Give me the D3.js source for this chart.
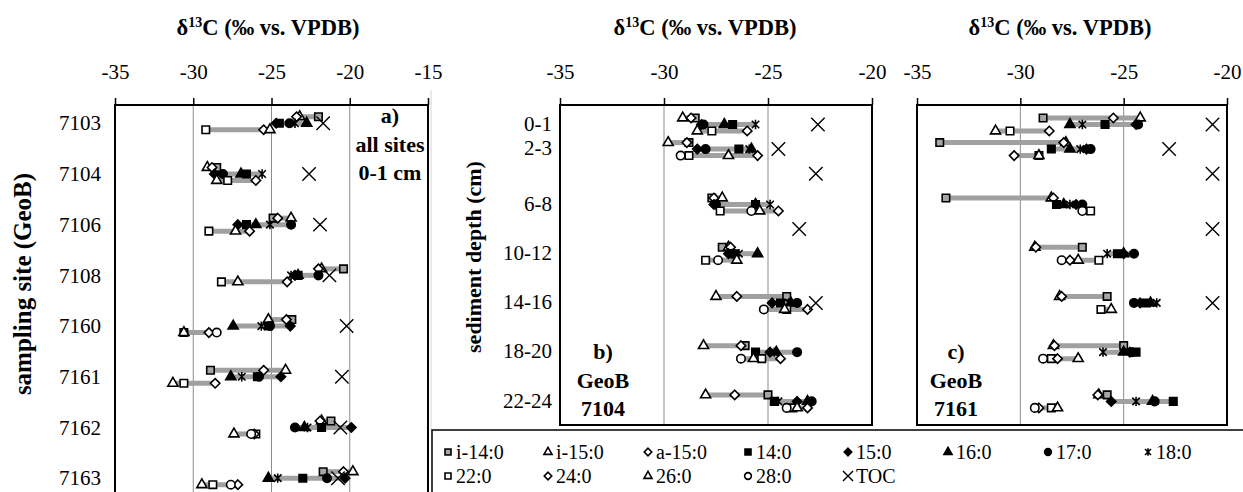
<!DOCTYPE html>
<html>
<head>
<meta charset="utf-8">
<script src="https://cdn.jsdelivr.net/npm/d3@7"></script>
<style>
	body { margin: 0; background: #fff; }
	svg { display: block; font-family: 'Liberation Serif', 'Times New Roman', serif; }
</style>
</head>
<body>
<div class="canvas"></div>
<script>
// compounds, in legend order
const compounds = ['i-14:0', 'i-15:0', 'a-15:0', '14:0', '15:0', '16:0', '17:0', '18:0', '22:0', '24:0', '26:0', '28:0'];
// 0 = branched, 1 = short chain, 2 = long chain
const compoundGroup = [0, 0, 0, 1, 1, 1, 1, 1, 2, 2, 2, 2];

// a) all sites, 0-1 cm
const sites = ['7103', '7104', '7106', '7108', '7160', '7161', '7162', '7163'];
const aI14 = [-22.0, -28.5, -24.9, -20.4, -23.7, -28.9, -21.2, -21.7];
const aI15 = [-23.2, -29.1, -23.75, -21.8, -25.2, -24.1, -21.8, -19.8];
const aA15 = [-23.4, -28.8, -24.6, -22.0, -24.05, -25.5, -21.9, -20.4];
const a14 = [-24.5, -26.6, -26.6, -23.3, -25.2, -25.9, -21.8, -23.0];
const a15 = [-24.7, -28.65, -27.15, -23.5, -23.8, -24.4, -19.9, -20.3];
const a16 = [-22.75, -26.95, -26.0, -23.3, -27.45, -27.6, -22.9, -25.2];
const a17 = [-23.85, -28.1, -23.75, -22.0, -25.1, -25.8, -23.5, -21.45];
const a18 = [-23.5, -25.6, -25.1, -23.75, -25.65, -26.9, -22.7, -24.6];
const a22 = [-29.2, -27.8, -29.0, -28.2, -30.6, -30.6, -26.0, -28.75];
const a24 = [-25.5, -26.0, -26.4, -24.0, -29.0, -28.6, -26.1, -27.15];
const a26 = [-25.1, -28.5, -27.3, -27.15, -30.6, -31.3, -27.4, -29.45];
const a28 = [null, null, null, null, -28.5, null, -26.3, -27.6];
const aToc = [-21.7, -22.6, -21.9, -21.3, -20.2, -20.5, -20.6, -20.75];

// b) GeoB 7104 and c) GeoB 7161, by sediment depth
const depthLabels = ['0-1', '2-3', '6-8', '10-12', '14-16', '18-20', '22-24'];
const depths = [0.5, 2.5, 7, 11, 15, 19, 23];
const tocDepths = [0.5, 2.5, 4.5, 9, 15];

const bI14 = [-28.5, -28.8, -27.7, -27.2, -24.1, -26.1, -25.0];
const bI15 = [-29.1, -29.8, -27.2, -26.9, -27.5, -28.1, -28.0];
const bA15 = [-28.7, -28.9, -27.6, -26.8, -26.5, -26.3, -26.6];
const b14 = [-26.7, -26.4, -25.6, -26.6, -24.4, -25.6, -24.7];
const b15 = [-28.2, -28.4, -27.6, -26.9, -24.8, -24.9, -23.6];
const b16 = [-27.1, -25.8, -25.6, -25.5, -23.9, -24.6, -23.1];
const b17 = [-28.1, -28.0, -27.5, -26.7, -23.6, -23.6, -22.9];
const b18 = [-25.6, -25.9, -24.9, -26.4, -24.0, -24.7, -24.5];
const b22 = [-27.7, -28.8, -27.3, -28.0, -24.1, -25.3, -23.8];
const b24 = [-26.0, -25.5, -24.5, null, -23.1, -24.4, -23.1];
const b26 = [-28.4, -26.9, -25.4, -26.5, -24.2, -25.7, -23.6];
const b28 = [null, -29.2, -25.8, -27.4, -25.2, -26.3, -24.1];
const bToc = [-22.6, -24.5, -22.7, -23.5, -22.7];

const cI14 = [-28.9, -33.9, -33.6, -27.0, -25.8, -25.0, -25.8];
const cI15 = [-24.2, -27.8, -28.5, -29.3, -28.1, -28.4, -26.2];
const cA15 = [-25.5, -27.9, -28.4, -29.25, -28.0, -28.35, -26.25];
const c14 = [-25.9, -28.5, -28.25, -25.3, -23.9, -24.4, -22.6];
const c15 = [-24.4, -26.8, -27.3, -25.0, -24.2, -24.7, -25.6];
const c16 = [-27.6, -27.6, -27.9, -25.0, -23.7, -25.0, -23.6];
const c17 = [-24.3, -26.6, -27.0, -24.5, -24.5, -24.6, -23.5];
const c18 = [-27.0, -27.1, -27.6, -25.8, -23.4, -26.0, -24.4];
const c22 = [-30.5, -29.1, -26.6, -26.2, -26.1, -28.5, -28.5];
const c24 = [-28.6, -30.3, null, -27.6, null, -28.2, -29.1];
const c26 = [-31.2, -29.1, null, -27.2, -25.6, -27.2, -28.2];
const c28 = [null, null, -27.0, -28.0, null, -28.9, -29.3];
const cToc = [-20.7, -22.8, -20.7, -20.7, -20.7];

// axis ticks
const xTicksA = [-35, -30, -25, -20, -15];
const xTicksBC = [-35, -30, -25, -20];

const svg = d3.select('.canvas')
	.append('svg')
	.attr('width', 1243)
	.attr('height', 492);

// custom marker shapes
const symbolStar = {
	draw(ctx, size) {
		const r = Math.sqrt(size) / 2;
		ctx.moveTo(-r, -r); ctx.lineTo(r, r);
		ctx.moveTo(-r, r); ctx.lineTo(r, -r);
		ctx.moveTo(0, -r * 1.25); ctx.lineTo(0, r * 1.25);
	}
};
const symbolCross = {
	draw(ctx, size) {
		const r = Math.sqrt(size) / 2;
		ctx.moveTo(-r, -r); ctx.lineTo(r, r);
		ctx.moveTo(-r, r); ctx.lineTo(r, -r);
	}
};
const diamond = d3.symbolDiamond2 || d3.symbolDiamond;

// style per compound, same order as compounds
const styles = [
	{ type: d3.symbolSquare, size: 56, fill: '#a6a6a6' },
	{ type: d3.symbolTriangle, size: 44, fill: '#fff' },
	{ type: diamond, size: 56, fill: '#fff' },
	{ type: d3.symbolSquare, size: 56, fill: '#000' },
	{ type: diamond, size: 56, fill: '#000' },
	{ type: d3.symbolTriangle, size: 44, fill: '#000' },
	{ type: d3.symbolCircle, size: 56, fill: '#000' },
	{ type: symbolStar, size: 56, fill: 'none' },
	{ type: d3.symbolSquare, size: 56, fill: '#fff' },
	{ type: diamond, size: 56, fill: '#fff' },
	{ type: d3.symbolTriangle, size: 44, fill: '#fff' },
	{ type: d3.symbolCircle, size: 56, fill: '#fff' }
];
const tocStyle = { type: symbolCross, size: 180, fill: 'none' };

const drawMarker = (g, st, x, y, k = 1) => {
	g.append('path')
		.attr('d', d3.symbol(st.type, st.size * k * k)())
		.attr('transform', `translate(${x},${y})`)
		.attr('fill', st.fill)
		.attr('stroke', '#000')
		.attr('stroke-width', st.type === symbolCross ? 1.4 : 1.6);
};

// vertical offsets of the three compound groups inside a row
const groupOffset = [-6.5, 0, 6.5];

const drawPanel = (p) => {
	const g = svg.append('g');
	const top = p.y.range()[0];
	const bottom = p.y.range()[1];

	// gridlines
	g.selectAll('line.grid')
		.data(p.grid)
		.enter()
		.append('line')
		.attr('x1', d => p.x(d))
		.attr('x2', d => p.x(d))
		.attr('y1', top)
		.attr('y2', bottom)
		.attr('stroke', '#8c8c8c')
		.attr('stroke-width', 1);

	// top axis
	g.append('g')
		.attr('transform', `translate(0,${top})`)
		.call(d3.axisTop(p.x).tickValues(p.ticks).tickSize(7).tickPadding(19).tickFormat(d => String(d)))
		.call(a => a.select('.domain').remove())
		.call(a => a.selectAll('line').attr('stroke-width', 1.5))
		.attr('font-family', 'Liberation Serif')
		.attr('font-size', 21);

	// left axis labels
	g.append('g')
		.attr('transform', `translate(${p.x.range()[0]},0)`)
		.call(d3.axisLeft(p.y).tickValues(p.rows).tickSize(0).tickPadding(p.pad).tickFormat((d, i) => p.labels[i]))
		.call(a => a.select('.domain').remove())
		.attr('font-family', 'Liberation Serif')
		.attr('font-size', 21);

	// grey bars, one per compound group per row
	const bars = g.append('g');
	const marks = g.append('g');
	p.rows.forEach((row, i) => {
		const yRow = p.y(row) + p.shift;
		[0, 1, 2].forEach(k => {
			const vals = p.series
				.map((s, j) => compoundGroup[j] === k ? s[i] : null)
				.filter(v => v !== null && v !== undefined);
			if (vals.length > 1) {
				bars.append('line')
					.attr('x1', p.x(d3.min(vals)))
					.attr('x2', p.x(d3.max(vals)))
					.attr('y1', yRow + groupOffset[k])
					.attr('y2', yRow + groupOffset[k])
					.attr('stroke', '#a0a0a0')
					.attr('stroke-width', 5);
			}
		});
		p.series.forEach((s, j) => {
			if (s[i] === null) return;
			drawMarker(marks, styles[j], p.x(s[i]), yRow + groupOffset[compoundGroup[j]]);
		});
	});

	// TOC crosses
	p.toc.forEach((v, i) => {
		drawMarker(marks, tocStyle, p.x(v), p.y(p.tocRows[i]) + p.shift);
	});

	// frame
	g.append('rect')
		.attr('x', p.x.range()[0])
		.attr('y', top)
		.attr('width', p.x.range()[1] - p.x.range()[0])
		.attr('height', bottom - top)
		.attr('fill', 'none')
		.attr('stroke', '#000')
		.attr('stroke-width', 2);

	// axis title
	const title = g.append('text')
		.attr('x', p.titleX)
		.attr('y', 35)
		.attr('text-anchor', 'middle')
		.attr('font-weight', 'bold')
		.attr('font-size', 22.5);
	title.append('tspan').text('δ');
	title.append('tspan').attr('dy', -8).attr('font-size', 14).text('13');
	title.append('tspan').attr('dy', 8).text('C (‰ vs. VPDB)');

	// panel note
	g.append('g')
		.selectAll('text')
		.data(p.note)
		.enter()
		.append('text')
		.attr('x', p.noteX)
		.attr('y', (d, i) => p.noteY + i * 28.5)
		.attr('text-anchor', 'middle')
		.attr('font-weight', 'bold')
		.attr('font-size', 22)
		.text(d => d);
};

// scales
const xA = d3.scaleLinear().domain([-35, -15]).range([115, 428]);
const yA = d3.scaleLinear().domain([-0.36, 7.6]).range([105, 508.6]);
const xB = d3.scaleLinear().domain([-35, -20]).range([560, 872]);
const xC = d3.scaleLinear().domain([-35, -20]).range([917, 1227]);
const yBC = d3.scaleLinear().domain([-1, 25]).range([105, 425]);

// faint outline of the middle chart
svg.append('line')
	.attr('x1', 431).attr('x2', 431)
	.attr('y1', 90).attr('y2', 430)
	.attr('stroke', '#d4d4d4')
	.attr('stroke-width', 1);

drawPanel({
	x: xA, y: yA, ticks: xTicksA, grid: [-30, -25, -20],
	rows: d3.range(sites.length), labels: sites, pad: 14, shift: 0,
	series: [aI14, aI15, aA15, a14, a15, a16, a17, a18, a22, a24, a26, a28],
	toc: aToc, tocRows: d3.range(sites.length),
	titleX: 268, note: ['a)', 'all sites', '0-1 cm'], noteX: 390, noteY: 123
});
drawPanel({
	x: xB, y: yBC, ticks: xTicksBC, grid: [-30, -25],
	rows: depths, labels: depthLabels, pad: 8, shift: 1,
	series: [bI14, bI15, bA15, b14, b15, b16, b17, b18, b22, b24, b26, b28],
	toc: bToc, tocRows: tocDepths,
	titleX: 705, note: ['b)', 'GeoB', '7104'], noteX: 603, noteY: 359
});
drawPanel({
	x: xC, y: yBC, ticks: xTicksBC, grid: [-30, -25],
	rows: depths, labels: depthLabels.map(() => ''), pad: 8, shift: 1,
	series: [cI14, cI15, cA15, c14, c15, c16, c17, c18, c22, c24, c26, c28],
	toc: cToc, tocRows: tocDepths,
	titleX: 1060, note: ['c)', 'GeoB', '7161'], noteX: 956, noteY: 359
});

// y axis titles
svg.append('text')
	.attr('transform', 'translate(22,284) rotate(-90)')
	.attr('text-anchor', 'middle')
	.attr('dominant-baseline', 'central')
	.attr('font-weight', 'bold')
	.attr('font-size', 25)
	.text('sampling site (GeoB)');
svg.append('text')
	.attr('transform', 'translate(473,257) rotate(-90)')
	.attr('text-anchor', 'middle')
	.attr('dominant-baseline', 'central')
	.attr('font-weight', 'bold')
	.attr('font-size', 22)
	.text('sediment depth (cm)');

// legend
const legend = svg.append('g');
legend.append('rect')
	.attr('x', 432)
	.attr('y', 430)
	.attr('width', 830)
	.attr('height', 80)
	.attr('fill', '#fff')
	.attr('stroke', '#000')
	.attr('stroke-width', 1.5);

const legendItems = compounds.map((c, j) => ({ name: c, st: styles[j] }))
	.concat([{ name: 'TOC', st: tocStyle }]);
const legX = d3.scalePoint().domain(d3.range(8)).range([448, 1148]);
legendItems.forEach((d, i) => {
	const col = i % 8;
	const ly = i < 8 ? 452 : 476;
	drawMarker(legend, d.st, legX(col), ly, d.st === tocStyle ? 0.75 : 0.8);
	legend.append('text')
		.attr('x', legX(col) + 8)
		.attr('y', ly)
		.attr('dy', '0.35em')
		.attr('font-size', 20)
		.text(d.name);
});
</script>
</body>
</html>
